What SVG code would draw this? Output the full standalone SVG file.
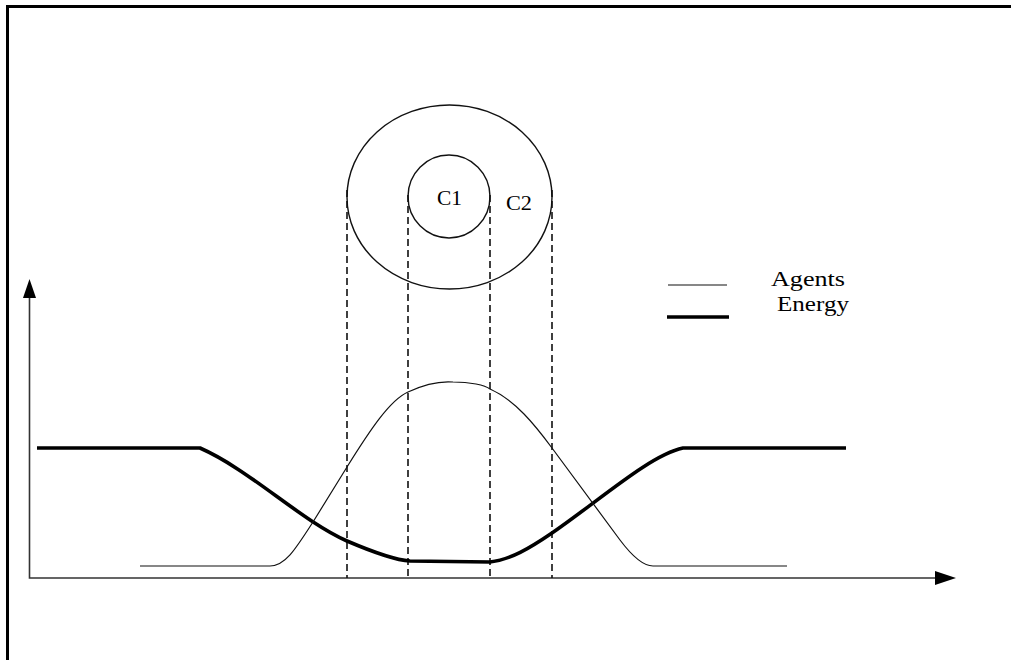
<svg xmlns="http://www.w3.org/2000/svg" width="1011" height="660" viewBox="0 0 1011 660">
<style>
.frame{fill:none;stroke:#000;stroke-width:3}
.axis{fill:none;stroke:#333;stroke-width:1.6}
.head{fill:#000;stroke:none}
.thin{fill:none;stroke:#111;stroke-width:1.2}
.thick{fill:none;stroke:#000;stroke-width:3.6}
.dash{fill:none;stroke:#111;stroke-width:1.6;stroke-dasharray:7,4}
.circ{fill:none;stroke:#111;stroke-width:1.4}
.lbl{font-family:"Liberation Serif","Times New Roman",serif;font-size:20px;fill:#000}
</style>
<rect width="1011" height="660" fill="#fff"/>
<path class="frame" d="M7.5,660 V6.5 H1011"/>
<g id="axes">
<path class="axis" d="M29.5,296 V578 H940"/>
<polygon class="head" points="29.5,279 36,298 23,298"/>
<polygon class="head" points="956,578 935,571 935,585"/>
</g>
<g id="circle-c2">
<ellipse class="circ" cx="449.5" cy="197" rx="102.5" ry="92"/>
<text class="lbl" x="506" y="210" textLength="26" lengthAdjust="spacingAndGlyphs">C2</text>
</g>
<g id="circle-c1">
<ellipse class="circ" cx="449" cy="196.5" rx="41" ry="41.5"/>
<text class="lbl" x="437" y="205" textLength="25" lengthAdjust="spacingAndGlyphs">C1</text>
</g>
<g id="connectors">
<line class="dash" x1="347" y1="190" x2="347" y2="578"/>
<line class="dash" x1="408" y1="195" x2="408" y2="578"/>
<line class="dash" x1="490" y1="195" x2="490" y2="578"/>
<line class="dash" x1="552" y1="190" x2="552" y2="578"/>
</g>
<g id="energy-curve">
<path class="thick" d="M37,448 L200,448 C250,470 300,520 347,541 C375,553 395,560 410,561 L490,562 C510,560 530,548 552,533 C600,500 650,455 683,448 L846,448"/>
</g>
<g id="agents-curve">
<path class="thin" d="M140,566 L270,566 C285,566 295,550 313,522 L347,467 C370,430 390,400 408,392 C425,384 440,381 453,382 C470,382 485,385 490,389 C515,400 535,425 552,448 L620,540 C635,560 645,566 653,566 L787,566"/>
</g>
<g id="legend">
<line class="thin" x1="668" y1="285" x2="727" y2="285"/>
<text class="lbl" x="771" y="286" textLength="74" lengthAdjust="spacingAndGlyphs">Agents</text>
<line class="thick" x1="667" y1="317" x2="729" y2="317"/>
<text class="lbl" x="777" y="311" textLength="72" lengthAdjust="spacingAndGlyphs">Energy</text>
</g>
</svg>
